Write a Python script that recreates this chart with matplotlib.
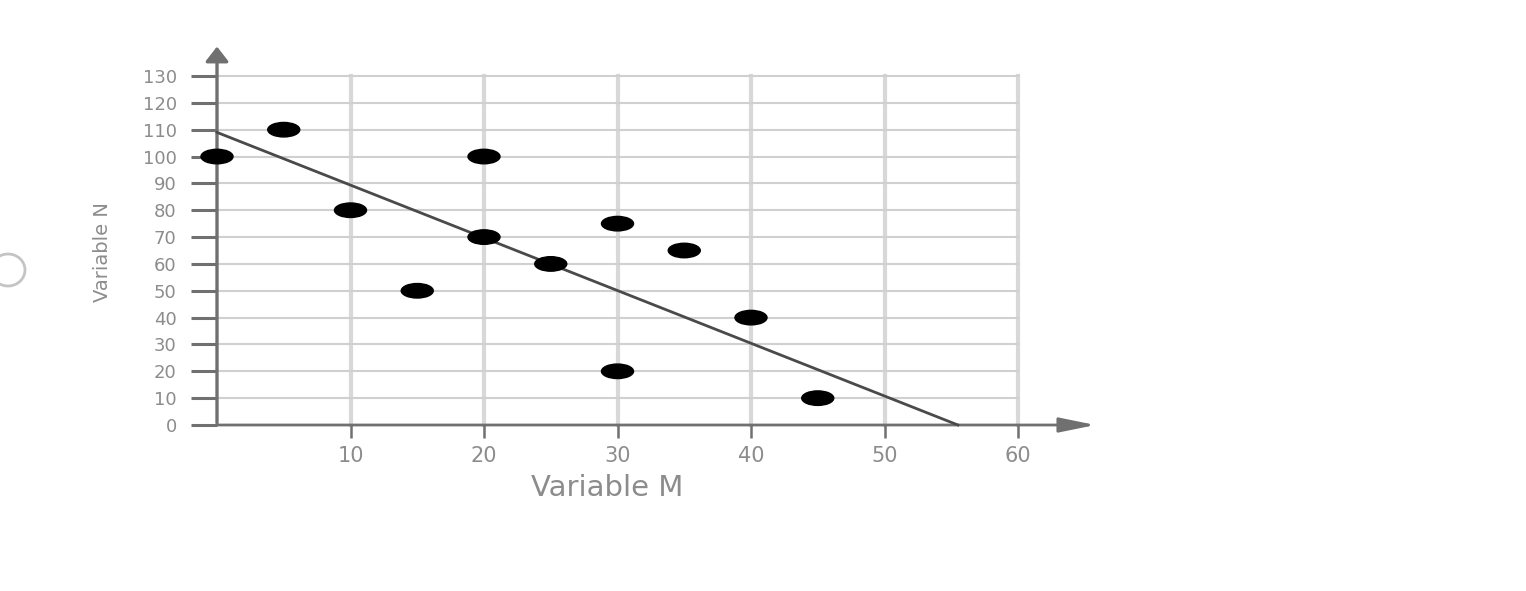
import matplotlib.pyplot as plt
from matplotlib.patches import Ellipse

# data
var_m = [0, 5, 10, 15, 20, 20, 25, 30, 30, 35, 40, 45]
var_n = [100, 110, 80, 50, 100, 70, 60, 75, 20, 65, 40, 10]
fit_m = [0, 55.5]
fit_n = [109, 0]
x_ticks = [10, 20, 30, 40, 50, 60]
y_ticks = list(range(0, 131, 10))

fig = plt.figure(figsize=(15.26, 5.91), dpi=100)
ax = fig.add_axes([217 / 1526, 166 / 591, 801 / 1526, 349 / 591])
ax.set_xlim(0, 60)
ax.set_ylim(0, 130)

for s in ax.spines.values():
    s.set_visible(False)

# grid
for x in x_ticks:
    ax.plot([x, x], [0, 130], color='#d8d8d8', lw=3.0, zorder=1, clip_on=False)
for y in y_ticks[1:]:
    ax.plot([0, 60], [y, y], color='#d0d0d0', lw=1.5, zorder=1, clip_on=False)

# axes with arrows
ax.annotate('', xy=(0, 142), xytext=(0, -0.3), xycoords='data',
            arrowprops=dict(arrowstyle='-|>,head_length=0.9,head_width=0.7',
                            color='#707070', lw=2.4), annotation_clip=False, zorder=3)
ax.annotate('', xy=(66, 0), xytext=(-0.2, 0), xycoords='data',
            arrowprops=dict(arrowstyle='-|>,head_length=2.2,head_width=0.45',
                            color='#707070', lw=2.0), annotation_clip=False, zorder=3)

ax.set_xticks(x_ticks)
ax.set_yticks(y_ticks)
ax.tick_params(axis='y', length=19, width=2.2, color='#707070', pad=10,
               labelsize=13, labelcolor='#8c8c8c')
ax.tick_params(axis='x', length=9, width=1.8, color='#707070', pad=6,
               labelsize=15, labelcolor='#8c8c8c')

# trend line
ax.plot(fit_m, fit_n, color='#4a4a4a', lw=2.0, zorder=4, clip_on=False)

# points as wide ellipses
for m, n in zip(var_m, var_n):
    ax.add_patch(Ellipse((m, n), 2.4, 5.4, color='black', zorder=5, clip_on=False))

fig.text(607 / 1526, 1 - 488 / 591, 'Variable M', ha='center', va='center',
         fontsize=21, color='#8c8c8c')
fig.text(103 / 1526, 1 - 252 / 591, 'Variable N', ha='center', va='center',
         rotation=90, fontsize=14, color='#8c8c8c')

# radio circle at left edge
fig.patches.append(Ellipse((8 / 1526, 1 - 270 / 591), 34 / 1526, 32 / 591,
                           transform=fig.transFigure, fill=False,
                           edgecolor='#c4c4c4', lw=2))

fig.savefig('out.png', dpi=100)
